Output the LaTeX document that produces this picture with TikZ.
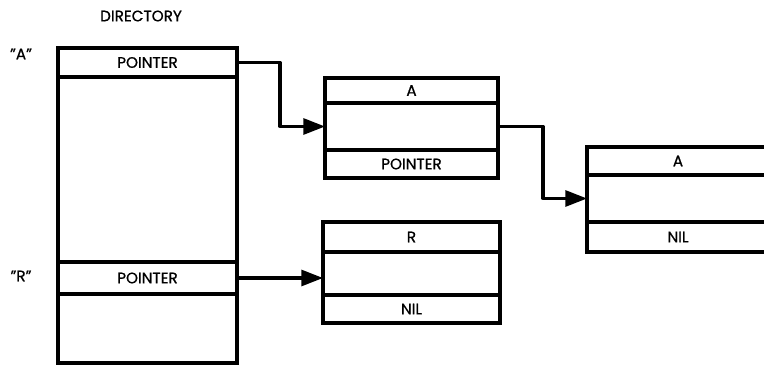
\documentclass[tikz,border=0pt]{standalone}
\usepackage{fontspec}
\setmainfont{Poppins}[FakeBold=0.8]
\usetikzlibrary{positioning,arrows.meta}
\tikzset{
  cell/.style 2 args={draw,line width=2.6pt,inner sep=0pt,outer sep=0pt,minimum width=#1*0.3mm,minimum height=#2*0.3mm},
  link/.style={line width=2.6pt,line join=round,-{Triangle[length=6.5mm,width=4.8mm]}}
}
\begin{document}
\begin{tikzpicture}[x=0.3mm,y=-0.3mm,font=\fontsize{13}{15}\selectfont]
\clip (0,0) rectangle (764,367);
\node (dir) at (141,16) {DIRECTORY};
\node (lblA) at (21,54) {''A''};
\node (lblR) at (21,276) {''R''};
\node[cell={179}{29},anchor=north west] (dA) at (58,48) {POINTER};
\node[cell={179}{185},below=0pt of dA] (dG) {};
\node[cell={179}{32},below=0pt of dG] (dR) {POINTER};
\node[cell={179}{69},below=0pt of dR] (dB) {};
\node[cell={173}{25},anchor=north west] (pA) at (325,78) {A};
\node[cell={173}{47},below=0pt of pA] (pM) {};
\node[cell={173}{28},below=0pt of pM] (pP) {POINTER};
\node[cell={177}{30},anchor=north west] (rR) at (323,222) {R};
\node[cell={177}{43},below=0pt of rR] (rM) {};
\node[cell={177}{28},below=0pt of rM] (rN) {NIL};
\node[cell={182}{28},anchor=north west] (qA) at (587,147) {A};
\node[cell={182}{47},below=0pt of qA] (qM) {};
\node[cell={182}{30},below=0pt of qM] (qN) {NIL};
\draw[link] (dA.east) -- ++(43,0) |- (pM.west);
\draw[link] (pM.east) -- ++(45,0) |- (qM.west);
\draw[link] (dR.east) -- (dR.east -| rM.west);
\end{tikzpicture}
\end{document}
